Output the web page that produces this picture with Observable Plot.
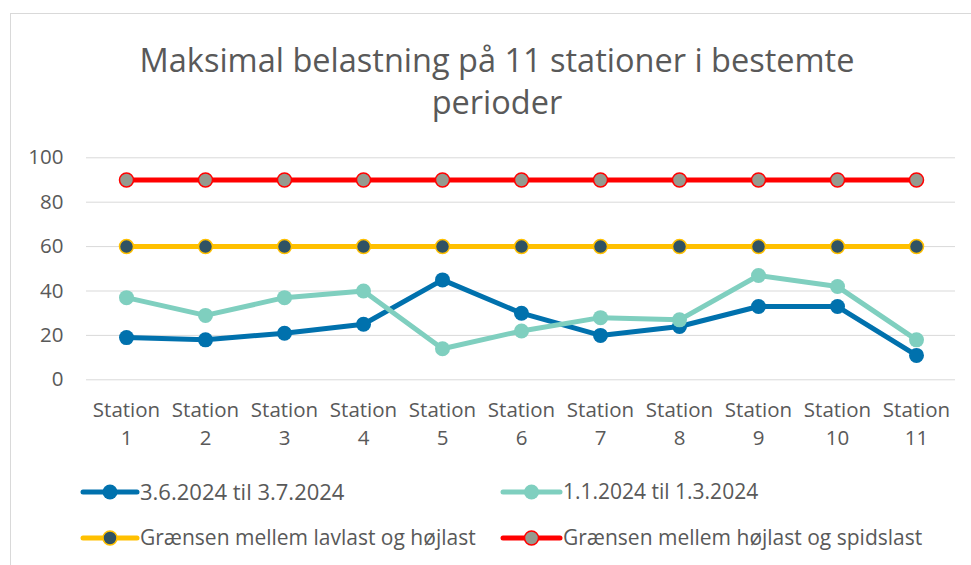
<!DOCTYPE html>
<html><head><meta charset="utf-8">
<script src="https://cdn.jsdelivr.net/npm/d3@7"></script>
<script src="https://cdn.jsdelivr.net/npm/@observablehq/plot@0.6"></script>
<style>
body{margin:0;background:#fff;font-family:"Open Sans",sans-serif;color:#595959;overflow:hidden}
#wrap{position:relative;width:971px;height:565px;overflow:hidden;background:#fff}
#frame{position:absolute;left:10px;top:13px;width:1000px;height:600px;border:1px solid #d9d9d9;box-sizing:border-box}
#title{position:absolute;left:0;width:994px;top:39px;text-align:center;font-size:32.5px;line-height:42px;color:#595959}
#chart{position:absolute;left:0;top:140px}
#legend{position:absolute;left:0;top:0}
</style></head>
<body>
<div id="wrap">
  <div id="frame"></div>
  <div id="title">Maksimal belastning på 11 stationer i bestemte<br>perioder</div>
  <div id="chart"></div>
  <svg id="legend" width="971" height="565"></svg>
</div>
<script>
const stations = ["Station 1","Station 2","Station 3","Station 4","Station 5","Station 6","Station 7","Station 8","Station 9","Station 10","Station 11"];
const summer = [19,18,21,25,45,30,20,24,33,33,11];
const winter = [37,29,37,40,14,22,28,27,47,42,18];
const lowHigh = [60,60,60,60,60,60,60,60,60,60,60];
const highPeak = [90,90,90,90,90,90,90,90,90,90,90];
const yTicks = [0,20,40,60,80,100];
const seriesNames = ["3.6.2024 til 3.7.2024","1.1.2024 til 1.3.2024","Grænsen mellem lavlast og højlast","Grænsen mellem højlast og spidslast"];

const blue = "#0071ad", teal = "#7fcfbf", yellow = "#ffc000", red = "#ff0000";
const rows = (vals) => stations.map((s,i)=>({station:s, value:vals[i]}));
const sSummer = rows(summer), sWinter = rows(winter), sLow = rows(lowHigh), sHigh = rows(highPeak);

const plot = Plot.plot({
  width: 971, height: 320,
  marginLeft: 86, marginRight: 16, marginTop: 17.3, marginBottom: 80.7,
  style: {fontFamily: '"Open Sans", sans-serif', color: "#595959", background: "transparent"},
  x: {type: "point", domain: stations, padding: 0.5, axis: null},
  y: {domain: [0,100], ticks: yTicks, label: null},
  marks: [
    Plot.gridY(yTicks, {stroke: "#d9d9d9", strokeOpacity: 1, strokeWidth: 1}),
    Plot.axisY(yTicks, {tickSize: 0, tickPadding: 23, fontSize: 20.5, fill: "#595959", label: null}),
    Plot.text(stations, {x: d => d, text: d => d.replace(" ", "\n"), frameAnchor: "bottom", lineAnchor: "middle", dy: 42.7, lineHeight: 1.366, fontSize: 20.5, fill: "#595959"}),
    Plot.line(sSummer, {x: "station", y: "value", stroke: blue, strokeWidth: 5, strokeLinejoin: "round"}),
    Plot.dot(sSummer, {x: "station", y: "value", r: 7.5, fill: blue}),
    Plot.line(sWinter, {x: "station", y: "value", stroke: teal, strokeWidth: 5, strokeLinejoin: "round"}),
    Plot.dot(sWinter, {x: "station", y: "value", r: 7.5, fill: teal}),
    Plot.line(sLow, {x: "station", y: "value", stroke: yellow, strokeWidth: 5}),
    Plot.dot(sLow, {x: "station", y: "value", r: 7, fill: "#2f5264", stroke: yellow, strokeWidth: 1.5}),
    Plot.line(sHigh, {x: "station", y: "value", stroke: red, strokeWidth: 5}),
    Plot.dot(sHigh, {x: "station", y: "value", r: 7, fill: "#959a8f", stroke: red, strokeWidth: 1.5})
  ]
});
document.getElementById("chart").appendChild(plot);

// legend
const leg = d3.select("#legend");
const items = [
  {name: seriesNames[0], line: blue, fill: blue, stroke: "none", x0: 83, x1: 137, tx: 140, y: 492, fs: 22},
  {name: seriesNames[1], line: teal, fill: teal, stroke: "none", x0: 503, x1: 560, tx: 563, y: 492, fs: 21},
  {name: seriesNames[2], line: yellow, fill: "#2f5264", stroke: yellow, x0: 83, x1: 137, tx: 140, y: 538, fs: 21},
  {name: seriesNames[3], line: red, fill: "#959a8f", stroke: red, x0: 503, x1: 560, tx: 563, y: 538, fs: 21}
];
for (const it of items) {
  const g = leg.append("g");
  g.append("line").attr("x1", it.x0).attr("x2", it.x1).attr("y1", it.y).attr("y2", it.y)
    .attr("stroke", it.line).attr("stroke-width", 5).attr("stroke-linecap", "round");
  g.append("circle").attr("cx", (it.x0+it.x1)/2).attr("cy", it.y).attr("r", it.stroke === "none" ? 7.5 : 7)
    .attr("fill", it.fill).attr("stroke", it.stroke).attr("stroke-width", 1.5);
  g.append("text").attr("x", it.tx).attr("y", it.y).attr("dy", "0.35em")
    .attr("font-family", '"Open Sans", sans-serif').attr("font-size", it.fs).attr("fill", "#595959").text(it.name);
}
</script>
</body></html>
